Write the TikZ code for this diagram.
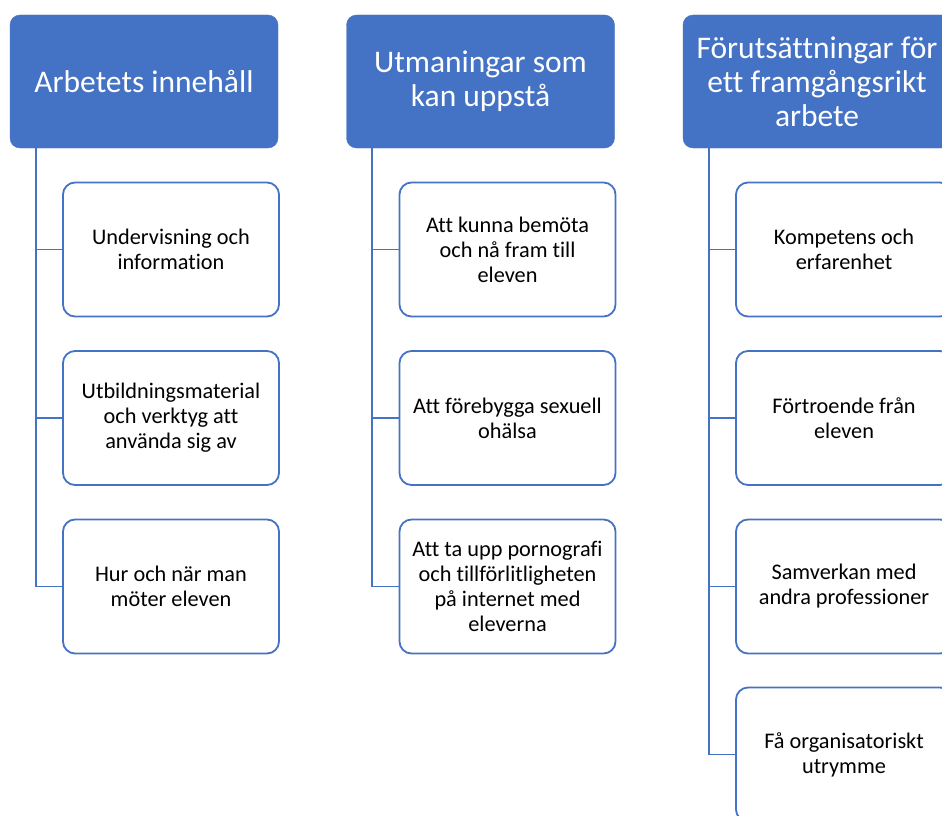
\documentclass[tikz,border=0pt]{standalone}
\usepackage{fontspec}
\setmainfont{Carlito}[Ligatures=NoCommon]
\definecolor{hblue}{HTML}{4472C4}
\tikzset{
  head/.style={draw=hblue, fill=hblue, rounded corners=10pt, minimum width=268pt, minimum height=133pt,
    inner sep=0pt, text=white, align=center, font=\fontsize{31.5}{34}\selectfont},
  child/.style={draw=hblue, line width=1.8pt, fill=white, rounded corners=12pt, minimum width=216pt, minimum height=134pt,
    inner sep=0pt, text=black, align=center, font=\fontsize{22.3}{25}\selectfont},
  conn/.style={draw=hblue, line width=1.8pt}
}
\begin{document}
\begin{tikzpicture}[x=1pt,y=-1pt]
\useasboundingbox (0,0) rectangle (942,816);
\clip (0,0) rectangle (942,816);
\fill[white] (0,0) rectangle (942,816);
% headers
\node[head] (h1) at (144,81.5) {Arbetets innehåll};
\node[head] (h2) at (480.5,81.5) {Utmaningar som\\kan uppstå};
\node[head] (h3) at (817,81.5) {Förutsättningar för\\ett framgångsrikt\\arbete};
% column 1
\node[child] (c11) at (171,249.5) {Undervisning och\\information};
\node[child] (c12) at (171,418) {Utbildningsmaterial\\och verktyg att\\använda sig av};
\node[child] (c13) at (171,586.5) {Hur och när man\\möter eleven};
% column 2
\node[child] (c21) at (507.5,249.5) {Att kunna bemöta\\och nå fram till\\eleven};
\node[child] (c22) at (507.5,418) {Att förebygga sexuell\\ohälsa};
\node[child] (c23) at (507.5,586.5) {Att ta upp pornografi\\och tillförlitligheten\\på internet med\\eleverna};
% column 3
\node[child] (c31) at (844,249.5) {Kompetens och\\erfarenhet};
\node[child] (c32) at (844,418) {Förtroende från\\eleven};
\node[child] (c33) at (844,586.5) {Samverkan med\\andra professioner};
\node[child] (c34) at (844,754.5) {Få organisatoriskt\\utrymme};
% connectors
\foreach \c in {c11,c12,c13} \draw[conn] ([xshift=26pt]h1.south west) |- (\c.west);
\foreach \c in {c21,c22,c23} \draw[conn] ([xshift=26pt]h2.south west) |- (\c.west);
\foreach \c in {c31,c32,c33,c34} \draw[conn] ([xshift=26pt]h3.south west) |- (\c.west);
\end{tikzpicture}
\end{document}
